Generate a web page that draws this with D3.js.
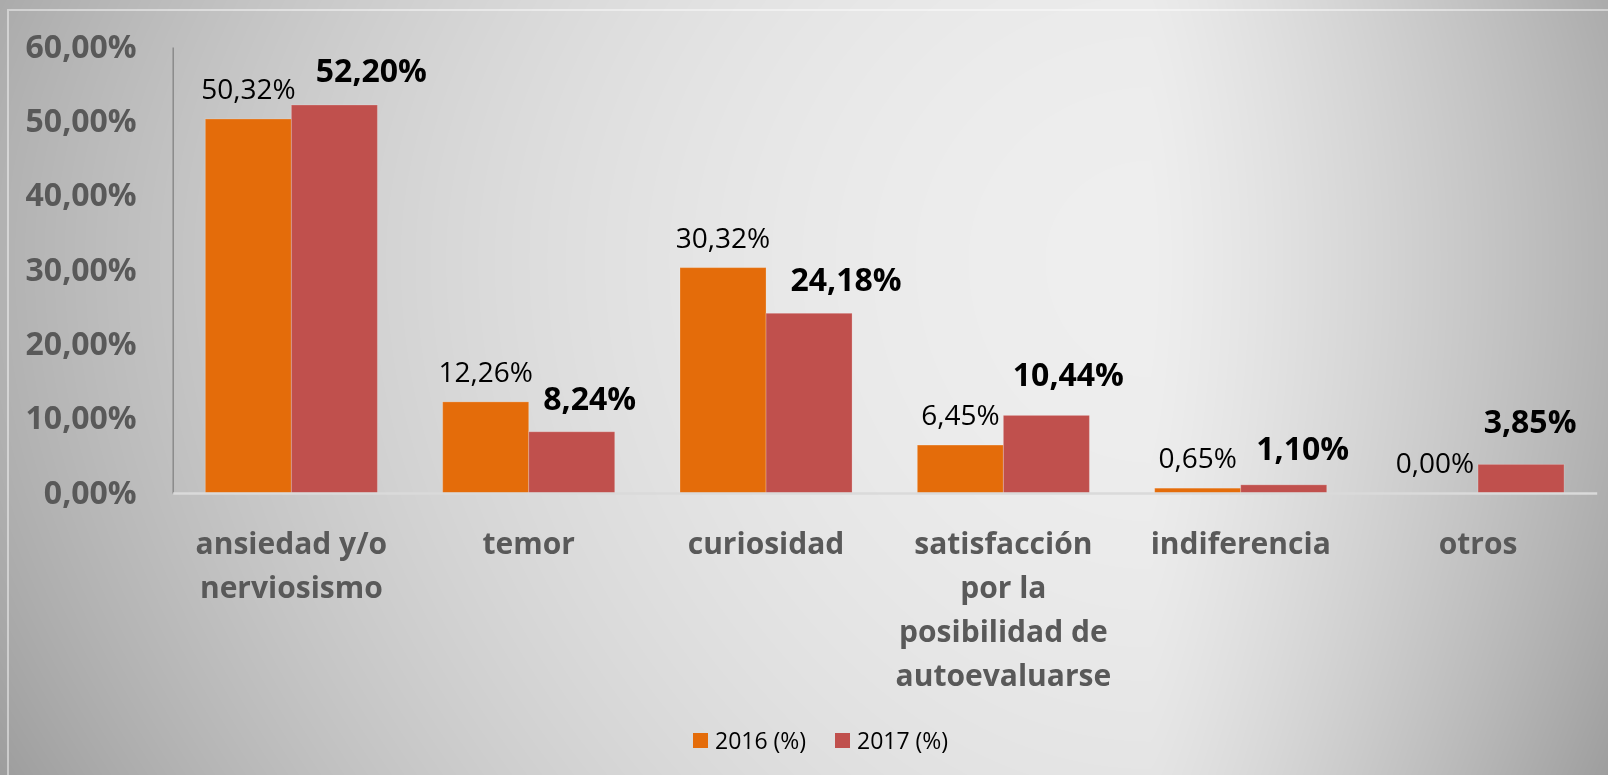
<!DOCTYPE html>
<html>
<head>
<meta charset="utf-8">
<script src="https://cdn.jsdelivr.net/npm/d3@7"></script>
<style>
  html, body { margin: 0; padding: 0; overflow: hidden; background: #c8c8c8; }
  #wrap { position: relative; width: 1608px; height: 775px; }
  canvas, svg { position: absolute; left: 0; top: 0; }
  text { font-family: "Open Sans", "DejaVu Sans", sans-serif; }
</style>
</head>
<body>
<div id="wrap"></div>
<script>
// ---- data ----
const categories = [
  "ansiedad y/o\nnerviosismo",
  "temor",
  "curiosidad",
  "satisfacción\npor la\nposibilidad de\nautoevaluarse",
  "indiferencia",
  "otros"
];
const seriesNames = ["2016 (%)", "2017 (%)"];
const values2016 = [0.5032, 0.1226, 0.3032, 0.0645, 0.0065, 0.0000];
const values2017 = [0.5220, 0.0824, 0.2418, 0.1044, 0.0110, 0.0385];
const yTicks = [0, 0.1, 0.2, 0.3, 0.4, 0.5, 0.6];

// ---- layout / style ----
const W = 1608, H = 775;
const colors = ["#E46C0A", "#C0504D"];
// manual nudges of the bold 2017 labels (as placed in the original)
const label2017Dx = [37, 18, 37, 22, 19, 9];
const label2017Gap = [23, 22, 22, 29, 25, 31];

const wrap = d3.select("#wrap");

// background gradient (canvas)
const canvas = wrap.append("canvas").attr("width", W).attr("height", H).node();
const ctx = canvas.getContext("2d");
const img = ctx.createImageData(W, H);
const cx = 1150, cy = 260;
for (let y = 0; y < H; y++) {
  const dy = y < cy ? (cy - y) / 600 : (y - cy) / 700;
  const dy2 = dy * dy;
  for (let x = 0; x < W; x++) {
    const hx = x < cx ? Math.pow((cx - x) / 1150, 2) : Math.pow((x - cx) / 460, 1.2);
    let g = 238 - 60 * hx - 18 * dy2 - 20 * hx * dy2;
    g = Math.max(0, Math.min(255, g));
    const i = (y * W + x) * 4;
    img.data[i] = g; img.data[i + 1] = g; img.data[i + 2] = g; img.data[i + 3] = 255;
  }
}
ctx.putImageData(img, 0, 0);

const svg = wrap.append("svg").attr("width", W).attr("height", H);

// frame line
svg.append("path")
  .attr("d", `M8,${H} L8,10 L${W},10`)
  .attr("fill", "none")
  .attr("stroke", "rgba(255,255,255,0.45)")
  .attr("stroke-width", 2);

// scales
const x = d3.scaleBand()
  .domain(categories)
  .range([172.7, 1596.7])
  .paddingInner(0.275)
  .paddingOuter(0.1375);
const xSub = d3.scaleBand()
  .domain(seriesNames)
  .range([0, x.bandwidth()]);
const y = d3.scaleLinear().domain([0, 0.6]).range([493, 47]);

const locale = d3.formatLocale({ decimal: ",", thousands: ".", grouping: [3], currency: ["", "€"], percent: "%" });
const fmt = locale.format(".2%");

// y axis
const yAxis = svg.append("g")
  .attr("transform", "translate(172.7,0)")
  .call(d3.axisLeft(y).tickValues(yTicks).tickSize(0).tickPadding(36).tickFormat(fmt));
yAxis.select(".domain").attr("stroke", "#8a8a8a").attr("stroke-width", 1.5);
yAxis.selectAll("text")
  .attr("font-family", "'Open Sans', sans-serif")
  .attr("font-size", 32)
  .attr("font-weight", "bold")
  .attr("fill", "#595959");

// bars
const rows = categories.map((c, i) => ({ cat: c, vals: [values2016[i], values2017[i]], i }));
const groups = svg.append("g").selectAll("g")
  .data(rows).join("g")
  .attr("transform", d => `translate(${x(d.cat)},0)`);

groups.selectAll("rect")
  .data(d => d.vals.map((v, k) => ({ v, k })))
  .join("rect")
  .attr("x", d => xSub(seriesNames[d.k]))
  .attr("y", d => y(d.v))
  .attr("width", xSub.bandwidth())
  .attr("height", d => y(0) - y(d.v))
  .attr("fill", d => colors[d.k])
  .attr("stroke", "rgba(255,255,255,0.22)")
  .attr("stroke-width", 1);

// x axis baseline
const xAxis = svg.append("g")
  .attr("transform", `translate(0,${y(0)})`)
  .call(d3.axisBottom(x).tickSize(0).tickPadding(0));
xAxis.select(".domain").attr("stroke", "#dadada").attr("stroke-width", 2.5);
xAxis.selectAll(".tick text").each(function (d) {
  const t = d3.select(this);
  t.text(null).attr("dy", null).attr("y", 0)
    .attr("font-family", "'Open Sans', sans-serif")
    .attr("font-size", 30)
    .attr("font-weight", "bold")
    .attr("fill", "#595959");
  d.split("\n").forEach((line, li) => {
    t.append("tspan").attr("x", 0).attr("y", 61 + li * 44).text(line);
  });
});

// data labels
groups.append("text")
  .attr("x", xSub(seriesNames[0]) + xSub.bandwidth() / 2)
  .attr("y", d => y(d.vals[0]) - 20)
  .attr("text-anchor", "middle")
  .attr("font-size", 28)
  .attr("fill", "#000")
  .text(d => fmt(d.vals[0]));

groups.append("text")
  .attr("x", d => xSub(seriesNames[1]) + xSub.bandwidth() / 2 + label2017Dx[d.i])
  .attr("y", d => y(d.vals[1]) - label2017Gap[d.i])
  .attr("text-anchor", "middle")
  .attr("font-size", 32)
  .attr("font-weight", "bold")
  .attr("fill", "#000")
  .text(d => fmt(d.vals[1]));

// legend
const legend = svg.append("g").attr("transform", "translate(693,733)");
const legX = [0, 142];
seriesNames.forEach((s, k) => {
  const g = legend.append("g").attr("transform", `translate(${legX[k]},0)`);
  g.append("rect").attr("width", 15).attr("height", 15).attr("fill", colors[k]);
  g.append("text").attr("x", 22).attr("y", 8).attr("dy", "0.35em")
    .attr("font-size", 23).attr("fill", "#000").text(s);
});
</script>
</body>
</html>
